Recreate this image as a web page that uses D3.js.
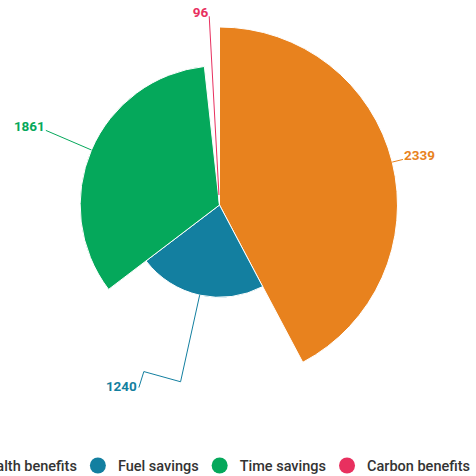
<!DOCTYPE html>
<html>
<head>
<meta charset="utf-8">
<script src="https://cdn.jsdelivr.net/npm/d3@7"></script>
<style>
  body { margin: 0; background: #fff; }
  svg { font-family: Roboto, "Noto Sans", sans-serif; }
</style>
</head>
<body>
<script>
// chart data
const categories = ["Health benefits", "Fuel savings", "Time savings", "Carbon benefits"];
const values = [2339, 1240, 1861, 96];
const zValues = [100, 49, 77, 0];
const colors = ["#e8821e", "#137fa0", "#05a85b", "#e8305f"];

function init() {
    var w = 476;
    var h = 476;
    var cx = 219.5, cy = 205;
    var labelRadius = 189;

    var data = categories.map(function(c, i) {
        return { name: c, value: values[i], z: zValues[i], color: colors[i] };
    });

    var rScale = d3.scaleLinear()
        .domain(d3.extent(zValues))
        .range([10, 178]);

    var pie = d3.pie()
        .sort(null)
        .value(function(d) { return d.value; });

    var arc = d3.arc()
        .innerRadius(0)
        .outerRadius(function(d) { return rScale(d.data.z); });

    var labelArc = d3.arc().innerRadius(labelRadius).outerRadius(labelRadius);

    var svg = d3.select("body")
        .append("svg")
        .attr("width", w)
        .attr("height", h);

    var g = svg.append("g")
        .attr("transform", "translate(" + cx + "," + cy + ")");

    var arcs = pie(data);

    g.selectAll("path.slice")
        .data(arcs)
        .enter()
        .append("path")
        .attr("class", "slice")
        .attr("d", arc)
        .style("fill", function(d) { return d.data.color; })
        .style("stroke", "#fff")
        .style("stroke-width", 1);

    // label shift for the one label that got pushed sideways
    var labelShift = [0, -41, 0, 0];

    arcs.forEach(function(d, i) {
        var mid = (d.startAngle + d.endAngle) / 2;
        var r = rScale(d.data.z);
        var edge = [Math.sin(mid) * r, -Math.cos(mid) * r];
        var lp = labelArc.centroid(d);
        var right = Math.sin(mid) >= 0;
        var pts;
        if (labelShift[i] === 0) {
            pts = [edge, lp];
        } else {
            var brk = [Math.sin(mid) * 181, -Math.cos(mid) * 181];
            var lx = lp[0] + labelShift[i];
            pts = [edge, brk, [lx + 6, lp[1] - 18], [lx + 1, lp[1] - 2]];
        }
        g.append("path")
            .attr("d", d3.line()(pts))
            .style("fill", "none")
            .style("stroke", d.data.color)
            .style("stroke-width", 1);

        g.append("text")
            .attr("x", lp[0] + labelShift[i] + (right ? 1 : -1))
            .attr("y", lp[1] + (labelShift[i] ? 1.5 : 0.5))
            .attr("text-anchor", right ? "start" : "end")
            .style("font-size", "13.5px")
            .style("font-weight", "bold")
            .style("fill", d.data.color)
            .style("stroke", "#fff")
            .style("stroke-width", 2)
            .style("paint-order", "stroke")
            .style("stroke-linejoin", "round")
            .text(d.data.value);
    });

    // legend
    var legend = svg.append("g");
    var items = legend.selectAll("g.item")
        .data(data)
        .enter()
        .append("g")
        .attr("class", "item");

    items.append("circle")
        .attr("r", 8)
        .attr("cx", 8)
        .attr("cy", 0)
        .style("fill", function(d) { return d.color; });

    items.append("text")
        .attr("x", 28)
        .attr("y", 5)
        .style("font-size", "14.5px")
        .style("font-weight", 500)
        .style("fill", "#333")
        .text(function(d) { return d.name; });

    var widths = [];
    items.each(function() {
        widths.push(28 + d3.select(this).select("text").node().getComputedTextLength());
    });
    var gap = 13;
    var total = d3.sum(widths) + gap * (widths.length - 1);
    var x = 470 - total;
    items.attr("transform", function(d, i) {
        var t = "translate(" + x + ",465.5)";
        x += widths[i] + gap;
        return t;
    });
}
window.onload = init;
</script>
</body>
</html>
